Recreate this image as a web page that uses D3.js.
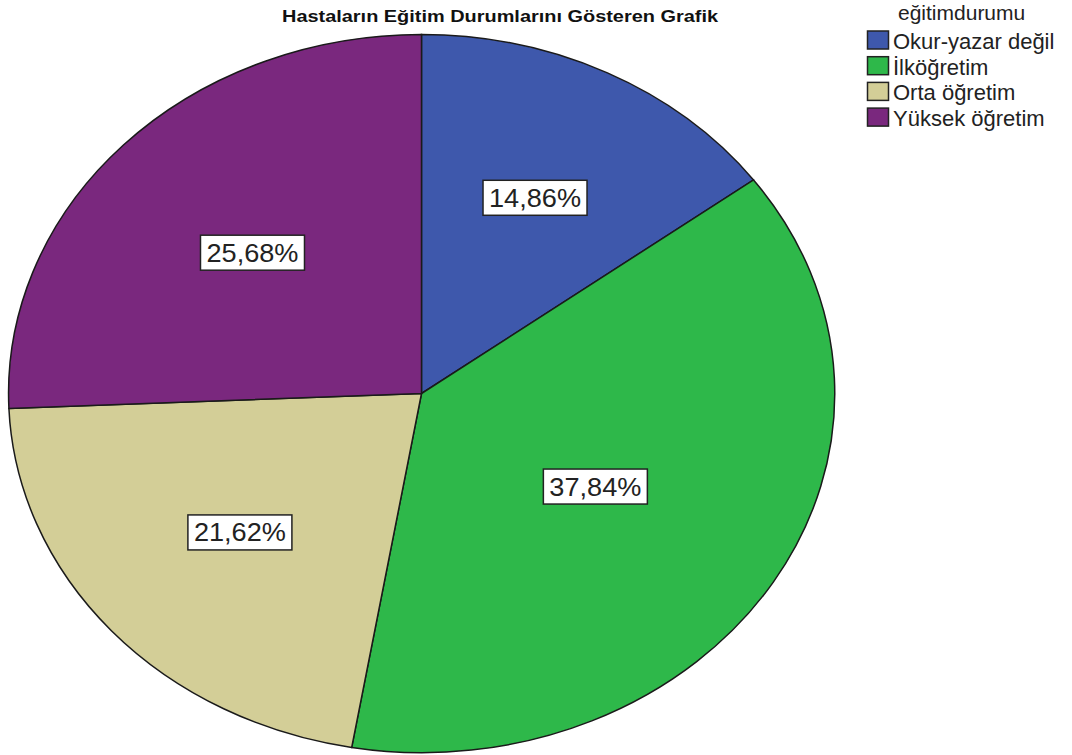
<!DOCTYPE html>
<html>
<head>
<meta charset="utf-8">
<script src="https://cdn.jsdelivr.net/npm/d3@7"></script>
<style>
  html, body { margin: 0; padding: 0; background: #ffffff; }
  svg { display: block; }
</style>
</head>
<body>
<svg id="chart" width="1072" height="755"></svg>
<script>
const chartTitle = "Hastaların Eğitim Durumlarını Gösteren Grafik";
const legendTitle = "eğitimdurumu";
const categories = ["Okur-yazar değil", "İlköğretim", "Orta öğretim", "Yüksek öğretim"];
const counts = [11, 28, 16, 19];
const colors = ["#3e58ac", "#2eb84a", "#d3ce97", "#7a287e"];

const svg = d3.select("#chart");
const W = 1072, H = 755;
const cx = 421.5, cy = 393.5, rx = 413, ry = 359;

const total = d3.sum(counts);
const data = categories.map((c, i) => ({ cat: c, value: counts[i], color: colors[i] }));

const pie = d3.pie().value(d => d.value).sort(null);
const arcs = pie(data);
const arc = d3.arc().innerRadius(0).outerRadius(1);

const pieG = svg.append("g")
  .attr("transform", `translate(${cx},${cy}) scale(${rx},${ry})`);

pieG.selectAll("path")
  .data(arcs)
  .enter().append("path")
  .attr("d", arc)
  .attr("fill", d => d.data.color)
  .attr("stroke", "#1a1a1a")
  .attr("stroke-width", 1.5)
  .attr("vector-effect", "non-scaling-stroke");

// labels
const fmt = v => (v * 100).toFixed(2).replace(".", ",") + "%";
const labelG = svg.append("g");
arcs.forEach(a => {
  const half = (a.endAngle - a.startAngle) / 2;
  const mid = (a.startAngle + a.endAngle) / 2;
  const r = 0.95 * (2 * Math.sin(half)) / (3 * half);
  const x = cx + Math.sin(mid) * r * rx;
  const y = cy - Math.cos(mid) * r * ry;
  const bw = 104, bh = 35;
  labelG.append("rect")
    .attr("x", x - bw / 2).attr("y", y - bh / 2)
    .attr("width", bw).attr("height", bh)
    .attr("fill", "#ffffff")
    .attr("stroke", "#222")
    .attr("stroke-width", 1.5);
  labelG.append("text")
    .attr("x", x).attr("y", y + 9)
    .attr("text-anchor", "middle")
    .attr("font-family", "Arial, 'Liberation Sans', sans-serif")
    .attr("font-size", 25)
    .attr("fill", "#222")
    .attr("textLength", 92)
    .attr("lengthAdjust", "spacingAndGlyphs")
    .text(fmt(a.data.value / total));
});

// title
svg.append("text")
  .attr("x", 500).attr("y", 22)
  .attr("text-anchor", "middle")
  .attr("font-family", "Arial, 'Liberation Sans', sans-serif")
  .attr("font-weight", "bold")
  .attr("font-size", 16)
  .attr("fill", "#111")
  .attr("textLength", 436)
  .attr("lengthAdjust", "spacingAndGlyphs")
  .text(chartTitle);

// legend
const lg = svg.append("g");
lg.append("text")
  .attr("x", 898).attr("y", 20)
  .attr("font-family", "Arial, 'Liberation Sans', sans-serif")
  .attr("font-size", 21)
  .attr("fill", "#222")
  .text(legendTitle);

const rowY = d3.scaleBand().domain(categories).range([31, 31 + 4 * 25.7]);
categories.forEach((c, i) => {
  const y0 = rowY(c);
  lg.append("rect")
    .attr("x", 867.5).attr("y", y0)
    .attr("width", 21).attr("height", 18)
    .attr("fill", colors[i])
    .attr("stroke", "#222")
    .attr("stroke-width", 1.5);
  lg.append("text")
    .attr("x", 893).attr("y", y0 + 18)
    .attr("font-family", "Arial, 'Liberation Sans', sans-serif")
    .attr("font-size", 22)
    .attr("fill", "#222")
    .text(c);
});
</script>
</body>
</html>
